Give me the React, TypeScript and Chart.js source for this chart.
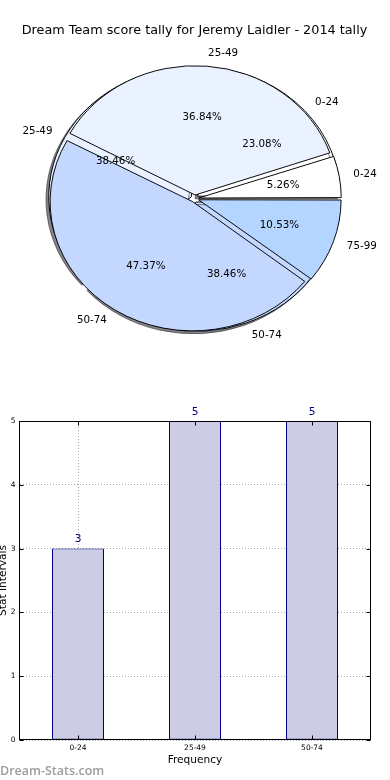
import React, { useEffect, useRef } from 'react';
import { Chart, registerables } from 'chart.js';

Chart.register(...registerables);

// ---------- data ----------
const pieTitle = 'Dream Team score tally for Jeremy Laidler - 2014 tally';
const earlierCategories = ['0-24', '25-49', '50-74'];
const earlierCounts = [3, 5, 5];
const seasonCategories = ['0-24', '25-49', '50-74', '75-99'];
const seasonCounts = [1, 7, 9, 2];

const barCategories = ['0-24', '25-49', '50-74'];
const barValues = [3, 5, 5];
const barYMin = 0;
const barYMax = 5;
const xAxisTitle = 'Frequency';
const yAxisTitle = 'Stat Intervals';
const watermark = 'Dream-Stats.com';

// ---------- styles ----------
const sliceColors: Record<string, string> = {
  '0-24': '#ffffff',
  '25-49': '#eaf1ff',
  '50-74': '#c4d7ff',
  '75-99': '#b4d5ff',
};
const FONT = '"DejaVu Sans", sans-serif';
const EXPLODE = 16; // chart.js arc offset (translates offset/4 px)
const PIE_R = 142.5;
const PIE_SY = 0.907;

function pieDataset(cats: string[], vals: number[]) {
  const c = [...cats].reverse();
  const v = [...vals].reverse();
  return {
    data: v,
    cats: c,
    backgroundColor: c.map((k) => sliceColors[k]),
    borderColor: '#000000',
    borderWidth: 1,
    offset: EXPLODE,
    hoverOffset: 0,
    clip: false as any,
  };
}

const ellipsePlugin = {
  id: 'ellipse',
  beforeDatasetsDraw(chart: any) {
    const { ctx, chartArea } = chart;
    const cx = (chartArea.left + chartArea.right) / 2;
    const cy = (chartArea.top + chartArea.bottom) / 2;
    ctx.save();
    ctx.translate(cx, cy);
    ctx.scale(1, PIE_SY);
    ctx.translate(-cx, -cy);
  },
  afterDatasetsDraw(chart: any) {
    chart.ctx.restore();
  },
  beforeDatasetDraw(chart: any, args: any) {
    if (args.index === 1) {
      const ctx = chart.ctx;
      ctx.save();
      ctx.shadowColor = 'rgba(30,30,40,0.55)';
      ctx.shadowOffsetX = -2.8;
      ctx.shadowOffsetY = 2.6;
      ctx.shadowBlur = 0;
    }
  },
  afterDatasetDraw(chart: any, args: any) {
    if (args.index === 1) chart.ctx.restore();
  },
  afterDatasetsUpdate(chart: any) {
    chart.data.datasets.forEach((_ds: any, i: number) => {
      const meta = chart.getDatasetMeta(i);
      meta.data.forEach((arc: any) => {
        const circ = arc.endAngle - arc.startAngle;
        const fix = 1 - Math.sin(Math.min(Math.PI, circ));
        arc.innerRadius = 0;
        arc.outerRadius = PIE_R - (EXPLODE / 4) * fix;
      });
    });
  },
};

const pieTextPlugin = {
  id: 'pieText',
  afterDraw(chart: any) {
    const { ctx, chartArea } = chart;
    const cx = (chartArea.left + chartArea.right) / 2;
    const cy = (chartArea.top + chartArea.bottom) / 2;
    ctx.save();
    ctx.fillStyle = '#000';
    ctx.font = `12.8px ${FONT}`;
    ctx.textAlign = 'center';
    ctx.textBaseline = 'alphabetic';
    ctx.fillText(pieTitle, 194.5, 34.3);
    ctx.font = `10.3px ${FONT}`;
    ctx.textBaseline = 'middle';
    const t = EXPLODE / 4;
    [1, 0].forEach((di) => {
      const ds = chart.data.datasets[di];
      const meta = chart.getDatasetMeta(di);
      const total = ds.data.reduce((a: number, b: number) => a + b, 0);
      meta.data.forEach((arc: any, j: number) => {
        const mid = (arc.startAngle + arc.endAngle) / 2;
        const dx = Math.cos(mid);
        const dy = Math.sin(mid);
        const lr = t + 1.1 * PIE_R;
        const pr = t + 0.6 * PIE_R;
        ctx.textAlign = dx > 0 ? 'left' : 'right';
        ctx.fillText(ds.cats[j], cx + lr * dx, cy + lr * dy * PIE_SY);
        ctx.textAlign = 'center';
        const pct = ((ds.data[j] / total) * 100).toFixed(2) + '%';
        ctx.fillText(pct, cx + pr * dx, cy + pr * dy * PIE_SY);
      });
    });
    ctx.restore();
  },
};

const barExtrasPlugin = {
  id: 'barExtras',
  afterDraw(chart: any) {
    const { ctx, chartArea } = chart;
    const L = Math.floor(chartArea.left) + 0.5;
    const R = Math.floor(chartArea.right) + 0.5;
    const T = Math.floor(chartArea.top) + 0.5;
    const B = Math.ceil(chartArea.bottom) - 0.5;
    ctx.save();
    // inward tick marks
    ctx.strokeStyle = '#000';
    ctx.lineWidth = 1;
    const ys = chart.scales.y;
    const xs = chart.scales.x;
    ctx.beginPath();
    ys.ticks.forEach((_t: any, i: number) => {
      const y = Math.round(ys.getPixelForTick(i)) + 0.5;
      ctx.moveTo(L, y); ctx.lineTo(L + 4, y);
      ctx.moveTo(R, y); ctx.lineTo(R - 4, y);
    });
    xs.ticks.forEach((_t: any, i: number) => {
      const x = Math.round(xs.getPixelForTick(i)) + 0.5;
      ctx.moveTo(x, B); ctx.lineTo(x, B - 4);
      ctx.moveTo(x, T); ctx.lineTo(x, T + 4);
    });
    ctx.stroke();
    // frame
    ctx.strokeRect(L, T, R - L, B - T);
    // value labels
    ctx.fillStyle = '#000080';
    ctx.font = `10.6px ${FONT}`;
    ctx.textAlign = 'center';
    ctx.textBaseline = 'middle';
    const meta = chart.getDatasetMeta(0);
    meta.data.forEach((bar: any, i: number) => {
      ctx.fillText(String(chart.data.datasets[0].data[i]), bar.x, bar.y - 9);
    });
    // watermark
    ctx.fillStyle = '#9c9c9c';
    ctx.font = '600 12.5px "Open Sans", sans-serif';
    ctx.textAlign = 'left';
    ctx.textBaseline = 'alphabetic';
    ctx.fillText(watermark, 0, 385);
    ctx.restore();
  },
};

export default function App() {
  const pieRef = useRef<HTMLCanvasElement>(null);
  const barRef = useRef<HTMLCanvasElement>(null);

  useEffect(() => {
    const pie = new Chart(pieRef.current as HTMLCanvasElement, {
      type: 'pie',
      data: {
        labels: [...seasonCategories].reverse(),
        datasets: [
          pieDataset(seasonCategories, seasonCounts) as any,
          pieDataset(earlierCategories, earlierCounts) as any,
        ],
      },
      options: {
        animation: false,
        responsive: false,
        events: [],
        rotation: 90,
        radius: PIE_R,
        layout: { padding: { left: 44.8, right: 45.2, top: 48.6, bottom: 31.4 } },
        plugins: { legend: { display: false }, tooltip: { enabled: false }, title: { display: false } },
      } as any,
      plugins: [ellipsePlugin, pieTextPlugin],
    });

    const gridColor = '#a8a8a8';
    const bar = new Chart(barRef.current as HTMLCanvasElement, {
      type: 'bar',
      data: {
        labels: barCategories,
        datasets: [
          {
            data: barValues,
            backgroundColor: '#ccccE5',
            borderColor: '#000080',
            borderWidth: 1,
            borderSkipped: false,
            barPercentage: 52 / 117,
            categoryPercentage: 1,
          },
        ],
      },
      options: {
        animation: false,
        responsive: false,
        events: [],
        layout: { padding: { left: -3.36, right: 19.5, top: 31, bottom: 0 } },
        plugins: { legend: { display: false }, tooltip: { enabled: false } },
        scales: {
          x: {
            z: 1,
            grid: { offset: false, color: gridColor, lineWidth: 1, drawTicks: false },
            border: { display: false, color: '#000', width: 1, dash: [1, 2] },
            ticks: { color: '#000', font: { family: FONT, size: 7.5 }, padding: 4, maxRotation: 0 },
            title: {
              display: true,
              text: xAxisTitle,
              color: '#000',
              font: { family: FONT, size: 10.6 },
              padding: { top: 0, bottom: 13.6 },
            },
            afterFit: (s: any) => { s.height = 40; },
          },
          y: {
            z: 1,
            min: barYMin,
            max: barYMax,
            grid: { color: gridColor, lineWidth: 1, drawTicks: false },
            border: { display: false, color: '#000', width: 1, dash: [1, 2] },
            ticks: { stepSize: 1, color: '#000', font: { family: FONT, size: 7.5 }, padding: 4 },
            title: {
              display: true,
              text: yAxisTitle,
              color: '#000',
              font: { family: FONT, size: 10.6 },
              padding: { top: 0, bottom: 0 },
            },
            afterFit: (s: any) => { s.width = 22.86; },
          },
        },
      } as any,
      plugins: [barExtrasPlugin],
    });

    return () => {
      pie.destroy();
      bar.destroy();
    };
  }, []);

  return (
    <div style={{ position: 'absolute', left: 0, top: 0, width: 390, height: 780, background: '#fff', overflow: 'hidden' }}>
      <canvas ref={pieRef} width={390} height={380} style={{ position: 'absolute', left: 0, top: 0, width: 390, height: 380 }} />
      <canvas ref={barRef} width={390} height={390} style={{ position: 'absolute', left: 0, top: 390, width: 390, height: 390 }} />
    </div>
  );
}
